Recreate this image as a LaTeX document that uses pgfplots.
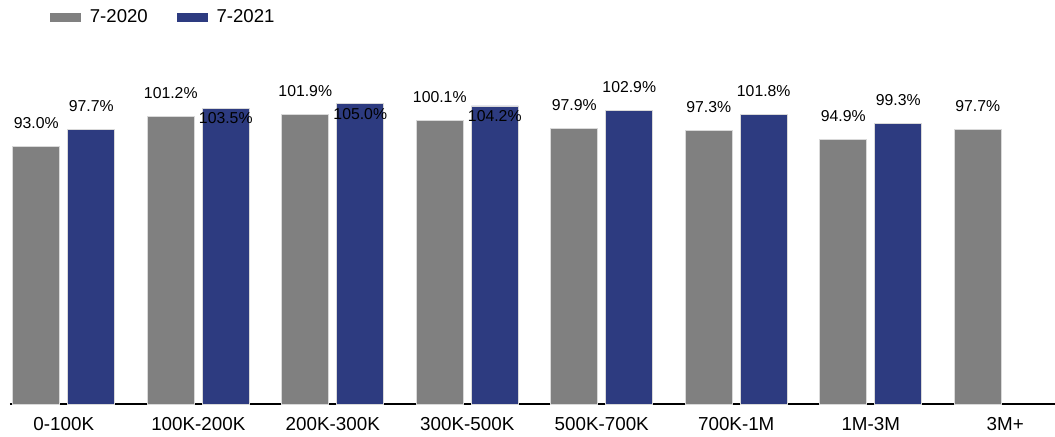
\documentclass[border=0pt]{standalone}
\usepackage{pgfplots}
\pgfplotsset{compat=1.18}
\usepackage{pgfplotstable}
\usepackage{fontspec}
\setmainfont{Liberation Sans}

\definecolor{barGray}{RGB}{128,128,128}
\definecolor{barBlue}{RGB}{45,59,128}

% x = category index, y = value, dy = label offset (pt)
\pgfplotstableread{
x y dy
0 93.0 11.7
1 101.2 11.7
2 101.9 11.7
3 100.1 11.7
4 97.9 11.7
5 97.3 11.7
6 94.9 11.7
7 97.7 11.7
}\yearA

\pgfplotstableread{
x y dy
0 97.7 11.7
1 103.5 -5
2 105.0 -5.5
3 104.2 -5
4 102.9 11.7
5 101.8 11.7
6 99.3 11.7
}\yearB

\begin{document}
\begin{tikzpicture}
\begin{axis}[
    scale only axis,
    width=522.5pt, height=182pt,
    ybar=4pt, bar width=23.5pt,
    xmin=-0.4, xmax=7.37,
    ymin=21, ymax=122.6,
    axis x line*=bottom,
    axis y line=none,
    x axis line style={line width=1.2pt, -},
    xtick={0,...,7},
    xticklabels={0-100K,100K-200K,200K-300K,300K-500K,500K-700K,700K-1M,1M-3M,3M+},
    major tick length=0pt,
    xticklabel style={font=\fontsize{9.4}{10}\selectfont, yshift=-3.3pt},
    /pgf/number format/assume math mode=true,
    visualization depends on={\thisrow{dy} \as \labdy},
    nodes near coords={\pgfmathprintnumber[fixed,fixed zerofill,precision=1]{\pgfplotspointmeta}\%},
    every node near coord/.append style={font=\fontsize{7.9}{9}\selectfont, anchor=center, yshift=\labdy pt},
    legend columns=2,
    legend style={draw=none, fill=none, inner sep=0pt,
        at={(0.038,1.063)}, anchor=west,
        font=\fontsize{9.3}{11}\selectfont,
        /tikz/every odd column/.append style={column sep=2.5pt},
        /tikz/every even column/.append style={column sep=12.5pt}},
]
\addplot[fill=barGray, draw=white!85!black, line width=0.4pt,
    legend image code/.code={\fill[barGray] (0pt,-2pt) rectangle (15pt,2pt);}]
    table[x=x, y=y] {\yearA};
\addlegendentry{7-2020}
\addplot[fill=barBlue, draw=white!85!black, line width=0.4pt,
    legend image code/.code={\fill[barBlue] (0pt,-2pt) rectangle (15pt,2pt);}]
    table[x=x, y=y] {\yearB};
\addlegendentry{7-2021}
\coordinate (ll) at (rel axis cs:0,0);
\coordinate (ur) at (rel axis cs:1,1);
\end{axis}
\pgfresetboundingbox
\path ([shift={(-5pt,-16pt)}]ll) rectangle ([shift={(0pt,20pt)}]ur);
\end{tikzpicture}
\end{document}
